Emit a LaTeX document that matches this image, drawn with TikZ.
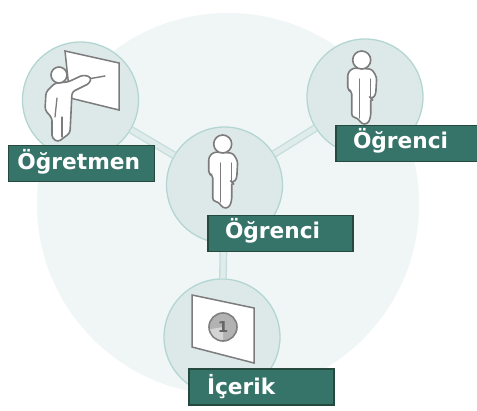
\documentclass[tikz,border=0pt]{standalone}
\usepackage{fontspec}
\setmainfont{DejaVu Sans}
\definecolor{bigfill}{HTML}{F0F6F6}
\definecolor{discfill}{HTML}{DDE9E9}
\definecolor{discline}{HTML}{B4D6D2}
\definecolor{connedge}{HTML}{C6DEDB}
\definecolor{conncore}{HTML}{DFECEB}
\definecolor{labfill}{HTML}{36746A}
\definecolor{labline}{HTML}{25483F}
\definecolor{figline}{HTML}{7C7C7C}
\tikzset{
  x=1pt,y=-1pt,
  bigdisc/.style={circle,fill=bigfill,inner sep=0,minimum size=382pt},
  disc/.style={circle,fill=discfill,draw=discline,line width=1.3pt,inner sep=0,minimum size=116pt},
  lab/.style={rectangle,fill=labfill,draw=labline,line width=1.5pt,inner sep=0,text=white,
     font=\fontsize{21.7}{24}\selectfont\bfseries,minimum height=36pt,text height=15pt,text depth=5pt},
  conn/.style={draw=connedge,double=conncore,line width=1.4pt,double distance=5pt},
  fig/.style={draw=figline,fill=white,line width=1.6pt,line join=round,rounded corners=3pt},
  figin/.style={draw=figline,line width=1.3pt,line cap=round},
  person/.pic={
    \path[fig] (-14,8) -- (-9,3) -- (10,4) -- (15,12) -- (14,30) -- (10,34) -- (9,33)
       -- (9,52) -- (6,59) -- (0,59) -- (-4,53) -- (-10,52) -- (-10,26) -- (-14,25) -- cycle;
    \draw[fill=white,draw=figline,line width=1.6pt] (0,-5) circle (9);
    \draw[figin] (-2,14) -- (-2,53);
    \draw[figin] (9,14) -- (9,33);
  }
}
\begin{document}
\begin{tikzpicture}
\useasboundingbox (0,0) rectangle (477,411);
\fill[white] (0,0) rectangle (477,411);
\node[bigdisc] (big) at (228,204) {};
\node[disc] (tc) at (80.5,100) {};
\node[disc] (cc) at (224.5,185) {};
\node[disc] (rc) at (365,97) {};
\node[disc] (bc) at (222,337) {};
\draw[conn] (tc) -- (cc);
\draw[conn] (cc) -- (rc);
\draw[conn] (cc) -- (bc);
% teacher
\path[draw=figline,fill=white,line width=1.5pt] (65,51) -- (119,63) -- (119,110) -- (70,98) -- cycle;
\draw[figline,line width=1.4pt,line cap=round] (88,79) -- (105,76);
\path[fig] (55,83) -- (46,92) -- (45,110) -- (52,118) -- (52,138) -- (58,142) -- (70,133)
  -- (72,92) -- (90,83) -- (91,77) -- (83,75) -- (68,82) -- cycle;
\draw[fill=white,draw=figline,line width=1.6pt] (59,75) circle (8);
\draw[figin] (57,98) -- (55,117);
\draw[figin] (62,117) -- (62,137);
% students
\pic at (222.7,149) {person};
\pic at (361.7,65) {person};
% content
\path[draw=figline,fill=white,line width=1.5pt] (192,295) -- (254,308) -- (254,363) -- (192,347) -- cycle;
\draw[fill=black!30,draw=black!50,line width=1.6pt] (223,327) circle (14);
\fill[black!17] (223,327) -- (223,340) arc (90:170:13) -- cycle;
\node[text=black!60,font=\fontsize{15}{15}\selectfont\bfseries,inner sep=0] (one) at (223,327) {1};
% labels
\node[lab,minimum width=146pt,text height=16pt,text depth=3pt] (lt) at (81.5,163.5) {\makebox[146pt][l]{\hspace*{9pt}Öğretmen}};
\node[lab,minimum width=145pt] (lc) at (280.5,233.5) {\makebox[145pt][l]{\hspace*{17pt}Öğrenci}};
\node[lab,minimum width=145pt] (lr) at (408.5,143.5) {\makebox[145pt][l]{\hspace*{17pt}Öğrenci}};
\node[lab,minimum width=145pt,text height=17pt,text depth=1pt] (lb) at (261.5,387) {\makebox[145pt][l]{\hspace*{18pt}İçerik}};
\end{tikzpicture}
\end{document}
